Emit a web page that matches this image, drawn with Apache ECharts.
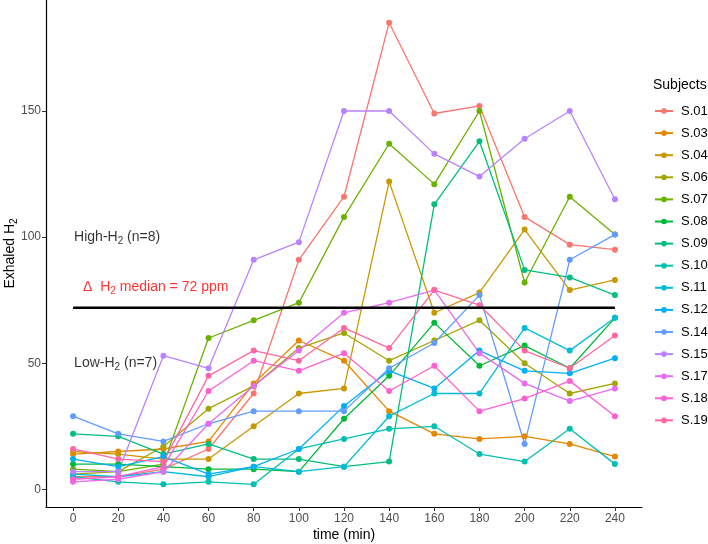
<!DOCTYPE html>
<html>
<head>
<meta charset="utf-8">
<script src="https://cdn.jsdelivr.net/npm/echarts@6/dist/echarts.min.js"></script>
<style>html,body{margin:0;padding:0;background:#fff}#c{width:708px;height:544px}</style>
</head>
<body>
<div id="c"></div>
<script>
const times = [0, 20, 40, 60, 80, 100, 120, 140, 160, 180, 200, 220, 240];
const xTicks = [0, 20, 40, 60, 80, 100, 120, 140, 160, 180, 200, 220, 240];
const yTicks = [0, 50, 100, 150];

const subjects = ['S.01','S.03','S.04','S.06','S.07','S.08','S.09','S.10','S.11','S.12','S.14','S.15','S.17','S.18','S.19'];
const colors = ['#F8766D','#E58700','#C99800','#A3A500','#6BB100','#00BA38','#00BF7D','#00C0AF','#00BCD8','#00B0F6','#619CFF','#B983FF','#E76BF3','#FD61D1','#FF67A4'];

const s01 = [5, 5, 8, 16, 38, 91, 116, 185, 149, 152, 108, 97, 95];
const s03 = [14, 15, 16, 19, 42, 59, 51, 31, 22, 20, 21, 18, 13];
const s04 = [15, 14, 12, 12, 25, 38, 40, 122, 70, 78, 103, 79, 83];
const s06 = [6, 7, 17, 32, 41, 56, 62, 51, 59, 67, 50, 38, 42];
const s07 = [8, 7, 10, 60, 67, 74, 108, 137, 121, 150, 82, 116, 101];
const s08 = [10, 10, 9, 8, 8, 7, 28, 45, 66, 49, 57, 48, 68];
const s09 = [22, 21, 14, 18, 12, 12, 9, 11, 113, 138, 87, 84, 77];
const s10 = [5, 3, 2, 3, 2, 16, 20, 24, 25, 14, 11, 24, 10];
const s11 = [6, 5, 7, 5, 9, 7, 9, 29, 38, 38, 64, 55, 68];
const s12 = [12, 9, 13, 6, 9, 16, 33, 47, 40, 55, 47, 46, 52];
const s14 = [29, 22, 19, 26, 31, 31, 31, 48, 58, 77, 18, 91, 101];
const s15 = [7, 7, 53, 48, 91, 98, 150, 150, 133, 124, 139, 150, 115];
const s17 = [3, 4, 7, 26, 41, 55, 70, 74, 79, 54, 42, 35, 40];
const s18 = [4, 5, 9, 39, 51, 47, 54, 39, 49, 31, 36, 43, 29];
const s19 = [16, 12, 11, 45, 55, 51, 64, 56, 79, 73, 55, 48, 61];
const seriesValues = [s01, s03, s04, s06, s07, s08, s09, s10, s11, s12, s14, s15, s17, s18, s19];

const medianValue = 72;
const medianRange = [0, 240];

const annX = [0, 4, 0];
const annY = [100, 80, 50];
const annText = ['{a|High-H}{s|2}{a| (n=8)}', '{r|\u0394  H}{rs|2}{r| median = 72 ppm}', '{a|Low-H}{s|2}{a| (n=7)}'];

const FONT = '"Liberation Sans", Arial, sans-serif';

const chart = echarts.init(document.getElementById('c'), null, {renderer: 'canvas'});

const series = subjects.map((name, i) => ({
  name: name,
  type: 'line',
  data: times.map((t, j) => [t, seriesValues[i][j]]),
  symbol: 'circle',
  symbolSize: 6,
  showSymbol: true,
  lineStyle: {width: 1.3, color: colors[i]},
  itemStyle: {color: colors[i]},
  emphasis: {disabled: true},
  z: 2
}));

series.push({
  name: 'median',
  type: 'line',
  data: medianRange.map(t => [t, medianValue]),
  symbol: 'none',
  lineStyle: {width: 2.6, color: '#000'},
  z: 3,
  silent: true
});

const richStyles = {
  a: {fontSize: 14, color: '#000', fontFamily: FONT, lineHeight: 18},
  s: {fontSize: 10, color: '#000', fontFamily: FONT, lineHeight: 10, verticalAlign: 'bottom'},
  r: {fontSize: 14, color: '#FF0000', fontFamily: FONT, lineHeight: 18},
  rs: {fontSize: 10, color: '#FF0000', fontFamily: FONT, lineHeight: 10, verticalAlign: 'bottom'}
};

series.push({
  name: 'annotations',
  type: 'scatter',
  symbolSize: 0,
  silent: true,
  data: annX.map((x, i) => ({value: [x, annY[i]], label: {formatter: annText[i]}})),
  label: {
    show: true,
    position: 'right',
    distance: 1,
    rich: richStyles
  },
  z: 4
});

const option = {
  animation: false,
  backgroundColor: '#fff',
  textStyle: {fontFamily: FONT},
  title: {
    text: 'Subjects',
    left: 648,
    top: 73,
    textStyle: {fontSize: 14, fontWeight: 'normal', color: '#000', fontFamily: FONT}
  },
  legend: {
    orient: 'vertical',
    left: 649,
    top: 99,
    itemWidth: 18,
    itemHeight: 7,
    itemGap: 8.1,
    data: subjects,
    textStyle: {fontSize: 13, color: '#000', fontFamily: FONT, lineHeight: 14, padding: [0, 0, 0, 3]},
    selectedMode: false
  },
  grid: {left: 46, right: 66, top: 0, bottom: 37, outerBoundsMode: 'none', containLabel: false},
  xAxis: {
    type: 'value',
    min: -12,
    max: 252,
    name: 'time (min)',
    nameLocation: 'middle',
    nameGap: 21,
    nameMoveOverlap: false,
    nameTextStyle: {fontSize: 14, color: '#000', fontFamily: FONT},
    axisLine: {show: true, onZero: false, lineStyle: {color: '#000', width: 1.2}},
    axisTick: {show: true, customValues: xTicks, length: 4, lineStyle: {color: '#333', width: 1}},
    axisLabel: {customValues: xTicks, color: '#4D4D4D', fontSize: 12, margin: 6, fontFamily: FONT},
    splitLine: {show: false}
  },
  yAxis: {
    type: 'value',
    min: -7,
    max: 194,
    name: '{n|Exhaled H}{s|2}',
    nameLocation: 'middle',
    nameGap: 27,
    nameMoveOverlap: false,
    nameTextStyle: {
      rich: {
        n: {fontSize: 14, color: '#000', fontFamily: FONT, lineHeight: 18},
        s: {fontSize: 10, color: '#000', fontFamily: FONT, lineHeight: 10, verticalAlign: 'bottom'}
      }
    },
    axisLine: {show: true, onZero: false, lineStyle: {color: '#000', width: 1.2}},
    axisTick: {show: true, customValues: yTicks, length: 4, lineStyle: {color: '#333', width: 1}},
    axisLabel: {customValues: yTicks, color: '#4D4D4D', fontSize: 12, margin: 5, fontFamily: FONT},
    splitLine: {show: false}
  },
  series: series
};

chart.setOption(option);
</script>
</body>
</html>
